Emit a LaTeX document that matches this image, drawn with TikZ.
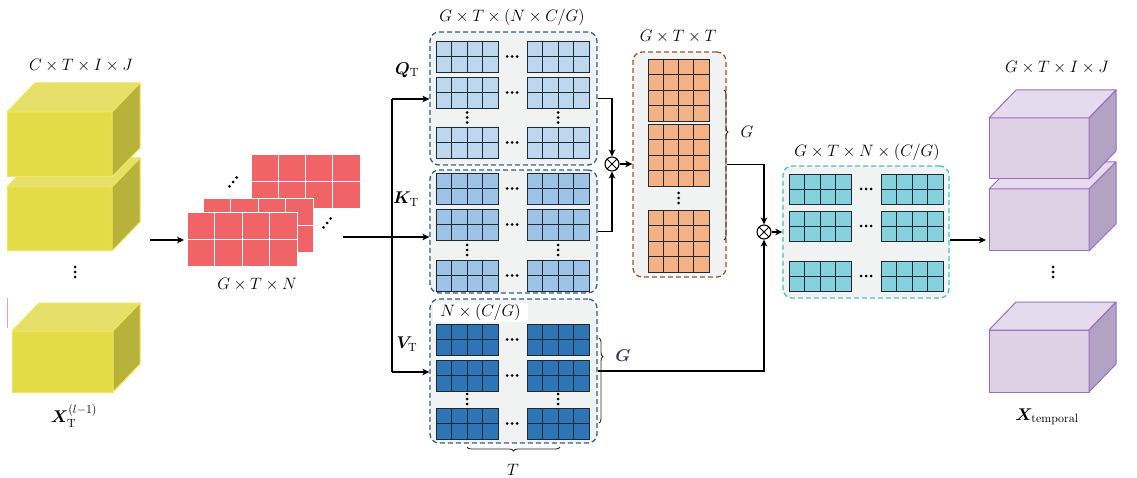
\RequirePackage{fix-cm}
\documentclass[tikz,border=0pt]{standalone}
\usepackage{amsmath,bm}
\usetikzlibrary{arrows.meta,decorations.pathreplacing}
\definecolor{ylF}{HTML}{E3DC46}
\definecolor{ylT}{HTML}{E6DF6A}
\definecolor{ylS}{HTML}{B9B23A}
\definecolor{ylE}{HTML}{EDE85A}
\definecolor{puF}{HTML}{DED1E6}
\definecolor{puT}{HTML}{E6DBEE}
\definecolor{puS}{HTML}{B2A2C3}
\definecolor{puE}{HTML}{9A6EBE}
\definecolor{redc}{HTML}{F06468}
\definecolor{qc}{HTML}{BDD7EE}
\definecolor{kc}{HTML}{9DC3E6}
\definecolor{vc}{HTML}{2E75B6}
\definecolor{oc}{HTML}{F4B183}
\definecolor{cc}{HTML}{86D1DE}
\definecolor{gridc}{HTML}{1E2A33}
\definecolor{panelc}{HTML}{F1F2F2}
\definecolor{qkvd}{HTML}{2F5F8A}
\definecolor{od}{HTML}{A0522D}
\definecolor{cd}{HTML}{45C0CC}
\definecolor{gnavy}{HTML}{2B3A7A}
\definecolor{pinkln}{HTML}{F0A0A0}

\newcommand\gridblk[8]{%
  \fill[#7] (#1,#2) rectangle ++(#3,#4);
  \pgfmathtruncatemacro\gbnc{#5-1}%
  \pgfmathtruncatemacro\gbnr{#6-1}%
  \foreach \k in {1,...,\gbnc}{\draw[#8] ({#1+\k*#3/#5},#2) -- ++(0,#4);}%
  \foreach \k in {1,...,\gbnr}{\draw[#8] (#1,{#2+\k*#4/#6}) -- ++(#3,0);}%
  \draw[#8] (#1,#2) rectangle ++(#3,#4);
}
\newcommand\cube[7]{%
  \filldraw[fill=#7F, draw=#7E, line width=1pt, line join=round] (#1,#2) rectangle ++(#3,#4);
  \filldraw[fill=#7T, draw=#7E, line width=1pt, line join=round] (#1,#2) -- ++(#5,-#6) -- ++(#3,0) -- ++(-#5,#6) -- cycle;
  \filldraw[fill=#7S, draw=#7E, line width=1pt, line join=round] ({#1+#3},#2) -- ++(#5,-#6) -- ++(0,#4) -- ++(-#5,#6) -- cycle;
}
\newcommand\hdt[2]{\foreach \k in {-5,0,5}{\fill ({#1+\k},#2) circle (1.5pt);}}
\newcommand\vdt[2]{\foreach \k in {-5,0,5}{\fill (#1,{#2+\k}) circle (1.5pt);}}
\newcommand\ddt[2]{\foreach \k in {-1,0,1}{\fill ({#1+3.6*\k},{#2-4.4*\k}) circle (1.5pt);}}

\begin{document}
\begin{tikzpicture}[x=1pt,y=-1pt,
  lbl/.style={font=\fontsize{16.5}{19}\selectfont, inner sep=1pt},
  lblb/.style={font=\fontsize{17}{20}\selectfont, inner sep=1pt},
  arr/.style={-{Stealth[length=7pt,width=6.5pt,inset=2pt]}, line width=1.2pt},
  ln/.style={line width=1.2pt},
  panel/.style={draw, dash pattern=on 5pt off 3pt, line width=1.3pt, rounded corners=9pt, fill=panelc, inner sep=0pt},
  otimes/.style={circle, draw, line width=1.1pt, minimum size=14pt, inner sep=0pt, fill=white,
    path picture={\draw[line width=1pt] (path picture bounding box.south west) -- (path picture bounding box.north east)
      (path picture bounding box.north west) -- (path picture bounding box.south east);}},
  brc/.style={draw=black!85, line width=0.9pt, decorate},
  gl/.style={draw=gridc, line width=0.9pt},
  wl/.style={draw=white, line width=1pt}
]
\useasboundingbox (0,0) rectangle (1137,478);

% ---------- left cubes ----------
\draw[pinkln, line width=1pt] (7,298) -- (7,328);
\cube{7}{187}{105}{64}{28}{29}{yl}
\cube{7}{112}{105}{65}{28}{29}{yl}
\vdt{75}{272}
\cube{12}{331}{101}{61}{27}{28}{yl}
\node[lbl] (lin) at (81,66) {$C\times T\times I\times J$};
\node[lblb] (lx) at (74,416) {$\boldsymbol{X}_{\mathrm{T}}^{(l-1)}$};

\coordinate (a0) at (150,240);
\coordinate (redin) at (184,240);
\draw[arr] (a0) -- (redin);

% ---------- red grids ----------
\gridblk{251}{155}{109}{54}{4}{2}{redc}{wl}
\gridblk{203}{199}{110}{54}{4}{2}{redc}{wl}
\gridblk{187}{213}{110}{54}{4}{2}{redc}{wl}
\ddt{233}{182}
\ddt{327}{223}
\node[lbl] (lgtn) at (257,285) {$G\times T\times N$};

% ---------- panels ----------
\node[panel, draw=qkvd, minimum width=167pt, minimum height=133pt] (Q) at (513.5,98.5) {};
\node[panel, draw=qkvd, minimum width=167pt, minimum height=123pt] (K) at (513.5,231.5) {};
\node[panel, draw=qkvd, minimum width=167pt, minimum height=144pt] (V) at (513.5,371) {};
\node[panel, draw=od, minimum width=93pt, minimum height=225pt] (O) at (679.5,164.5) {};
\node[panel, draw=cd, minimum width=166pt, minimum height=132pt] (C) at (866,232) {};

% Q blocks
\foreach \yy in {41,77,127}{
  \gridblk{436}{\yy}{62}{31}{4}{2}{qc}{gl}
  \gridblk{527}{\yy}{62}{31}{4}{2}{qc}{gl}
  \hdt{512}{\yy+15.5}
}
\vdt{467}{117.5}\vdt{558}{117.5}
% K blocks
\foreach \yy in {173,209,260}{
  \gridblk{436}{\yy}{62}{31}{4}{2}{kc}{gl}
  \gridblk{527}{\yy}{62}{31}{4}{2}{kc}{gl}
  \hdt{512}{\yy+15.5}
}
\vdt{467}{250}\vdt{558}{250}
% V blocks
\foreach \yy in {324,360,408}{
  \gridblk{436}{\yy}{62}{31}{4}{2}{vc}{gl}
  \gridblk{527}{\yy}{62}{31}{4}{2}{vc}{gl}
  \hdt{512}{\yy+15.5}
}
\vdt{467}{399}\vdt{558}{399}
\node[lbl, fill=white, minimum width=95pt, minimum height=19pt] (lnc) at (480.5,312.5) {$N\times(C/G)$};

% orange blocks
\foreach \yy in {59,124,210}{
  \gridblk{648}{\yy}{61}{62}{4}{4}{oc}{gl}
}
\vdt{678.5}{198}
% cyan blocks
\foreach \yy in {174,211,261}{
  \gridblk{789}{\yy}{62}{30}{4}{2}{cc}{gl}
  \gridblk{881}{\yy}{62}{30}{4}{2}{cc}{gl}
  \hdt{866}{\yy+15}
}

% labels
\node[lbl] (lqkv) at (512,17) {$G\times T\times(N\times C/G)$};
\node[lbl] (lgtt) at (678,37) {$G\times T\times T$};
\node[lbl] (lgtnc) at (867,152) {$G\times T\times N\times(C/G)$};
\node[lblb] (lq) at (407,70) {$\boldsymbol{Q}_{\mathrm{T}}$};
\node[lblb] (lk) at (406,199) {$\boldsymbol{K}_{\mathrm{T}}$};
\node[lblb] (lv) at (407,344) {$\boldsymbol{V}_{\mathrm{T}}$};

% braces
\draw[brc, decoration={brace, amplitude=4pt, aspect=0.28}] (724,90) -- (724,240);
\node[lbl] (lgo) at (747,132) {$G$};
\draw[brc, decoration={brace, amplitude=4pt, aspect=0.22}] (599,338) -- (599,423);
\node[lblb, text=gnavy] (lgv) at (623,356) {$\boldsymbol{G}$};
\draw[brc, decoration={brace, amplitude=4pt}] (560,447) -- (467,447);
\node[lbl] (lt) at (513,470) {$T$};

% connectors
\coordinate (s) at (343,237);
\coordinate (jt) at (392,99);
\coordinate (jb) at (392,372);
\draw[arr] (s) -- (K.west |- s);
\draw[ln] (jt) -- (jb);
\draw[arr] (jt) -- (Q.west |- jt);
\draw[arr] (jb) -- (V.west |- jb);

\node[otimes] (m1) at (612,164) {};
\node[otimes] (m2) at (764,232) {};
\draw[arr] (Q.east) -| (m1.north);
\draw[arr] (K.east) -| (m1.south);
\draw[arr] (m1.east) -- (O.west |- m1);
\draw[arr] (O.east) -| (m2.north);
\draw[arr] (V.east) -| (m2.south);
\draw[arr] (m2.east) -- (C.west |- m2);

% ---------- right cubes ----------
\cube{989}{189}{100}{62}{27}{27}{pu}
\cube{989}{118}{100}{61}{27}{28}{pu}
\vdt{1053}{272}
\cube{989}{330}{100}{62}{27}{28}{pu}
\coordinate (pin) at (986,240);
\draw[arr] (C.east |- pin) -- (pin);
\node[lbl] (lout) at (1057,68) {$G\times T\times I\times J$};
\node[lblb] (lxt) at (1047,417) {$\boldsymbol{X}_{\mathrm{temporal}}$};
\end{tikzpicture}
\end{document}
